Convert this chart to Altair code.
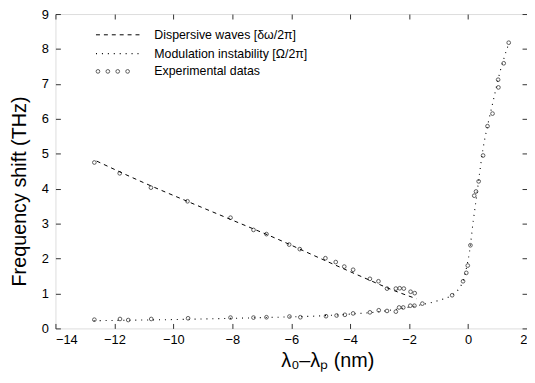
import altair as alt
import pandas as pd

# Experimental data, dispersive-wave branch
dw_x = [-12.68, -11.82, -10.76, -9.52, -8.06, -7.28, -6.84, -6.07, -5.71, -4.84,
        -4.49, -4.20, -3.90, -3.33, -3.04, -2.75, -2.45, -2.32, -2.18, -1.95, -1.81]
dw_y = [4.75, 4.44, 4.03, 3.64, 3.17, 2.82, 2.70, 2.40, 2.27, 2.01,
        1.90, 1.77, 1.68, 1.42, 1.35, 1.14, 1.14, 1.15, 1.14, 1.05, 1.01]

# Experimental data, modulation-instability branch
mi_x = [-12.68, -11.81, -11.53, -10.75, -9.50, -8.06, -7.28, -6.84, -6.06, -5.69,
        -4.82, -4.46, -4.18, -3.90, -3.33, -3.03, -2.75, -2.45, -2.34, -2.20,
        -1.96, -1.82, -1.55, -0.54, -0.17, -0.06, -0.01, 0.08, 0.21, 0.27,
        0.36, 0.51, 0.66, 0.83, 1.02, 1.03, 1.21, 1.38]
mi_y = [0.25, 0.27, 0.24, 0.27, 0.29, 0.31, 0.31, 0.32, 0.34, 0.32,
        0.35, 0.37, 0.39, 0.43, 0.46, 0.52, 0.50, 0.48, 0.60, 0.60,
        0.65, 0.65, 0.71, 0.95, 1.35, 1.59, 1.80, 2.38, 3.80, 3.92,
        4.21, 4.95, 5.79, 6.15, 7.12, 6.90, 7.59, 8.18]

# Theory curve: dispersive waves
dwc_x = [-12.6, -11.0, -9.5, -8.0, -6.5, -5.0, -3.5, -2.5, -1.75]
dwc_y = [4.79, 4.17, 3.63, 3.10, 2.57, 2.00, 1.44, 1.08, 0.85]

# Theory curve: modulation instability
mic_x = [-12.7, -11.0, -9.0, -7.0, -5.0, -4.0, -3.0, -2.5, -2.0, -1.5, -1.0, -0.6,
         -0.3, -0.15, -0.05, 0.05, 0.18, 0.29, 0.40, 0.51, 0.70, 0.85, 1.07, 1.30, 1.40]
mic_y = [0.22, 0.24, 0.27, 0.31, 0.36, 0.41, 0.48, 0.54, 0.61, 0.69, 0.80, 0.93,
         1.15, 1.40, 1.75, 2.20, 3.10, 3.78, 4.50, 5.15, 5.95, 6.50, 7.30, 7.95, 8.20]

x_ticks = list(range(-14, 3, 2))
y_ticks = list(range(0, 10))

legend_labels = ["Dispersive waves [δω/2π]", "Modulation instability [Ω/2π]", "Experimental datas"]

FONT = "Liberation Sans"
xs = alt.Scale(domain=[-14, 2], nice=False, zero=False)
ys = alt.Scale(domain=[0, 9], nice=False, zero=False)

common = dict(domain=False, grid=False, tickSize=5, offset=-5, tickColor="#333333",
              tickWidth=1, labelFont=FONT, labelFontSize=13, labelColor="black",
              titleFont=FONT, titleFontWeight="normal", titleColor="black")

ax_bottom = alt.Axis(values=x_ticks, title="λ₀–λₚ (nm)", labelPadding=5,
                     titleFontSize=20, titleX=275, titleY=38, titleBaseline="middle",
                     titleAlign="center", **common)
ax_left = alt.Axis(values=y_ticks, title="Frequency shift (THz)", labelPadding=7,
                   titleFontSize=20, titleX=-41, titleY=179, titleAngle=270,
                   titleBaseline="middle", titleAlign="center", **common)
ax_top = alt.Axis(values=x_ticks, orient="top", labels=False, title=None, **common)
ax_right = alt.Axis(values=y_ticks, orient="right", labels=False, title=None, **common)

dwc = pd.DataFrame({"x": dwc_x, "y": dwc_y})
mic = pd.DataFrame({"x": mic_x, "y": mic_y})
pts = pd.DataFrame({"x": dw_x + mi_x, "y": dw_y + mi_y})

dw_line = alt.Chart(dwc).mark_line(color="black", strokeWidth=1, strokeDash=[4, 4],
                                   interpolate="monotone").encode(
    x=alt.X("x:Q", scale=xs, axis=ax_bottom),
    y=alt.Y("y:Q", scale=ys, axis=ax_left),
)
mi_line = alt.Chart(mic).mark_line(color="black", strokeWidth=1.1, strokeDash=[1, 5],
                                   interpolate="monotone").encode(
    x=alt.X("x:Q", scale=xs, axis=ax_top),
    y=alt.Y("y:Q", scale=ys, axis=ax_right),
)
points = alt.Chart(pts).mark_point(shape="circle", filled=False, color="black",
                                   size=14, strokeWidth=0.9).encode(
    x=alt.X("x:Q", scale=xs, axis=None),
    y=alt.Y("y:Q", scale=ys, axis=None),
)

one = pd.DataFrame({"a": [0]})
leg_dash = alt.Chart(one).mark_rule(color="black", strokeWidth=1, strokeDash=[4, 4]).encode(
    x=alt.value(41), x2=alt.value(88), y=alt.value(21))
leg_dot = alt.Chart(one).mark_rule(color="black", strokeWidth=1.1, strokeDash=[1, 5]).encode(
    x=alt.value(41), x2=alt.value(89), y=alt.value(40))
leg_circles = [
    alt.Chart(one).mark_point(shape="circle", filled=False, color="black", size=14,
                              strokeWidth=0.9).encode(x=alt.value(px), y=alt.value(58))
    for px in (43, 53, 63, 73)
]
leg_texts = [
    alt.Chart(one).mark_text(align="left", baseline="middle", font=FONT, fontSize=12.5,
                             color="black").encode(x=alt.value(100), y=alt.value(py),
                                                   text=alt.value(t))
    for t, py in zip(legend_labels, (21, 40, 58))
]

chart = alt.layer(dw_line, mi_line, points, leg_dash, leg_dot, *leg_circles, *leg_texts).resolve_axis(
    x="independent", y="independent"
).properties(
    width=477, height=318,
    padding={"left": 48, "top": 4, "right": 0, "bottom": 45},
    autosize=alt.AutoSizeParams(type="none"),
).configure_view(stroke="black", strokeWidth=1.5).configure(background="white")

chart.save("out.html", embed_options={"renderer": "svg", "actions": False})
